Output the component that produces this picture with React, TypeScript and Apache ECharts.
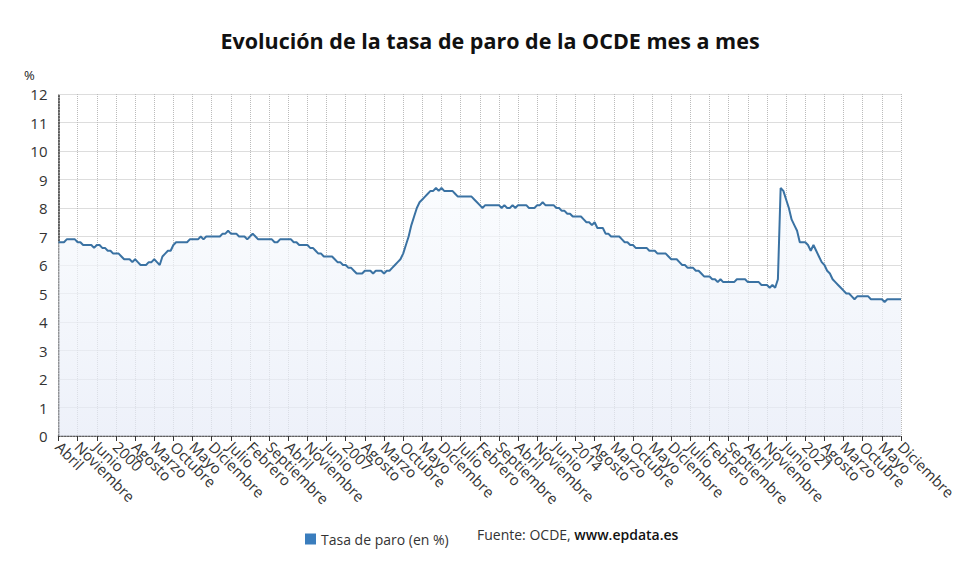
import React, { useEffect, useRef } from 'react';
import * as echarts from 'echarts';

// Meses en castellano; la serie empieza en abril de 1998
const monthNames = [
  'Enero', 'Febrero', 'Marzo', 'Abril', 'Mayo', 'Junio',
  'Julio', 'Agosto', 'Septiembre', 'Octubre', 'Noviembre', 'Diciembre',
];
const startYear = 1998;
const startMonth = 3; // abril
const labelStep = 7; // una etiqueta cada 7 meses

// Tasa de paro OCDE (%), un renglón por año
const paro: number[] = [
  6.8, 6.8, 6.8, 6.9, 6.9, 6.9, 6.9, 6.8, 6.8, // 1998 (abr-dic)
  6.7, 6.7, 6.7, 6.7, 6.6, 6.7, 6.7, 6.6, 6.6, 6.5, 6.5, 6.4, // 1999
  6.4, 6.4, 6.3, 6.2, 6.2, 6.2, 6.1, 6.2, 6.1, 6.0, 6.0, 6.0, // 2000
  6.1, 6.1, 6.2, 6.1, 6.0, 6.3, 6.4, 6.5, 6.5, 6.7, 6.8, 6.8, // 2001
  6.8, 6.8, 6.8, 6.9, 6.9, 6.9, 6.9, 7.0, 6.9, 7.0, 7.0, 7.0, // 2002
  7.0, 7.0, 7.0, 7.1, 7.1, 7.2, 7.1, 7.1, 7.1, 7.0, 7.0, 7.0, // 2003
  6.9, 7.0, 7.1, 7.0, 6.9, 6.9, 6.9, 6.9, 6.9, 6.9, 6.8, 6.8, // 2004
  6.9, 6.9, 6.9, 6.9, 6.9, 6.8, 6.8, 6.7, 6.7, 6.7, 6.7, 6.6, // 2005
  6.6, 6.5, 6.4, 6.4, 6.3, 6.3, 6.3, 6.3, 6.2, 6.1, 6.1, 6.0, // 2006
  6.0, 5.9, 5.9, 5.8, 5.7, 5.7, 5.7, 5.8, 5.8, 5.8, 5.7, 5.8, // 2007
  5.8, 5.8, 5.7, 5.8, 5.8, 5.9, 6.0, 6.1, 6.2, 6.4, 6.7, 7.0, // 2008
  7.4, 7.7, 8.0, 8.2, 8.3, 8.4, 8.5, 8.6, 8.6, 8.7, 8.6, 8.7, // 2009
  8.6, 8.6, 8.6, 8.6, 8.5, 8.4, 8.4, 8.4, 8.4, 8.4, 8.4, 8.3, // 2010
  8.2, 8.1, 8.0, 8.1, 8.1, 8.1, 8.1, 8.1, 8.1, 8.0, 8.1, 8.0, // 2011
  8.0, 8.1, 8.0, 8.1, 8.1, 8.1, 8.1, 8.0, 8.0, 8.0, 8.1, 8.1, // 2012
  8.2, 8.1, 8.1, 8.1, 8.1, 8.0, 8.0, 7.9, 7.9, 7.8, 7.8, 7.7, // 2013
  7.7, 7.7, 7.7, 7.6, 7.5, 7.5, 7.4, 7.5, 7.3, 7.3, 7.3, 7.1, // 2014
  7.1, 7.0, 7.0, 7.0, 7.0, 6.9, 6.8, 6.8, 6.7, 6.7, 6.6, 6.6, // 2015
  6.6, 6.6, 6.6, 6.5, 6.5, 6.5, 6.4, 6.4, 6.4, 6.4, 6.3, 6.2, // 2016
  6.2, 6.2, 6.1, 6.0, 6.0, 5.9, 5.9, 5.9, 5.8, 5.8, 5.7, 5.6, // 2017
  5.6, 5.6, 5.5, 5.5, 5.4, 5.5, 5.4, 5.4, 5.4, 5.4, 5.4, 5.5, // 2018
  5.5, 5.5, 5.5, 5.4, 5.4, 5.4, 5.4, 5.4, 5.3, 5.3, 5.3, 5.2, // 2019
  5.3, 5.2, 5.5, 8.7, 8.6, 8.3, 8.0, 7.6, 7.4, 7.2, 6.8, 6.8, // 2020
  6.8, 6.7, 6.5, 6.7, 6.5, 6.3, 6.1, 6.0, 5.8, 5.7, 5.5, 5.4, // 2021
  5.3, 5.2, 5.1, 5.0, 5.0, 4.9, 4.8, 4.9, 4.9, 4.9, 4.9, 4.9, // 2022
  4.8, 4.8, 4.8, 4.8, 4.8, 4.7, 4.8, 4.8, 4.8, 4.8, 4.8, 4.8, // 2023
];

const meses = paro.map((_, i) => {
  const m = startMonth + i;
  return `${monthNames[m % 12]} ${startYear + Math.floor(m / 12)}`;
});

const font = "'Open Sans', 'Noto Sans', sans-serif";

export default function App() {
  const chartRef = useRef<HTMLDivElement | null>(null);

  useEffect(() => {
    if (!chartRef.current) return;
    const chart = echarts.init(chartRef.current, undefined, { renderer: 'svg' });

    const option = {
      animation: false,
      textStyle: { fontFamily: font },
      title: {
        text: 'Evolución de la tasa de paro de la OCDE mes a mes',
        left: 'center',
        top: 24,
        textStyle: { fontSize: 21.5, fontWeight: 'bold', color: '#111', fontFamily: font },
      },
      grid: { left: 58.5, right: 79, top: 94, bottom: 139, containLabel: false },
      legend: {
        data: ['Tasa de paro (en %)'],
        left: 300,
        top: 527,
        icon: 'rect',
        itemWidth: 11,
        itemHeight: 11,
        itemGap: 6,
        textStyle: { fontSize: 14, color: '#333', fontFamily: font },
      },
      graphic: [
        {
          type: 'text',
          left: 24,
          top: 68,
          style: { text: '%', fontSize: 13, fill: '#222', fontFamily: font },
        },
        {
          type: 'text',
          left: 477,
          top: 527,
          style: {
            text: '{a|Fuente: OCDE, }{b|www.epdata.es}',
            rich: {
              a: { fontSize: 14, fill: '#333', fontFamily: font },
              b: { fontSize: 14, fill: '#111', fontWeight: 600, fontFamily: font },
            },
          },
        },
      ],
      xAxis: {
        type: 'category',
        data: meses,
        boundaryGap: false,
        axisLine: { lineStyle: { color: '#333', type: 'dotted', width: 1.5 } },
        axisTick: { interval: labelStep - 1, length: 5, lineStyle: { color: '#333' } },
        axisLabel: {
          interval: 0,
          rotate: -45,
          fontSize: 15,
          color: '#333',
          margin: 8,
          hideOverlap: false,
          formatter: (v: string, i: number) => {
            if (i % labelStep !== 0) return '';
            const [mes, anio] = v.split(' ');
            return mes === 'Enero' ? anio : mes;
          },
        },
        splitLine: { show: true, interval: labelStep - 1, lineStyle: { color: '#bbb', type: 'dotted' } },
      },
      yAxis: {
        type: 'value',
        min: 0,
        max: 12,
        interval: 1,
        axisLine: { show: true, lineStyle: { color: '#333', type: 'dotted', width: 1.5 } },
        axisTick: { show: false },
        axisLabel: { fontSize: 15, color: '#333', margin: 11 },
        splitLine: { lineStyle: { color: '#bbb', type: 'dotted' } },
      },
      series: [
        {
          name: 'Tasa de paro (en %)',
          type: 'line',
          data: paro,
          showSymbol: false,
          symbol: 'none',
          itemStyle: { color: '#3a7dbd' },
          lineStyle: { color: '#3a72a3', width: 2 },
          areaStyle: {
            color: new echarts.graphic.LinearGradient(0, 0, 0, 1, [
              { offset: 0, color: '#f8fbfe' },
              { offset: 1, color: '#e6ebf7' },
            ]),
          },
        },
      ],
    };

    chart.setOption(option);
    return () => {
      chart.dispose();
    };
  }, []);

  return (
    <div
      ref={chartRef}
      style={{ position: 'fixed', left: 0, top: 0, width: '980px', height: '575px', background: '#fff' }}
    ></div>
  );
}
